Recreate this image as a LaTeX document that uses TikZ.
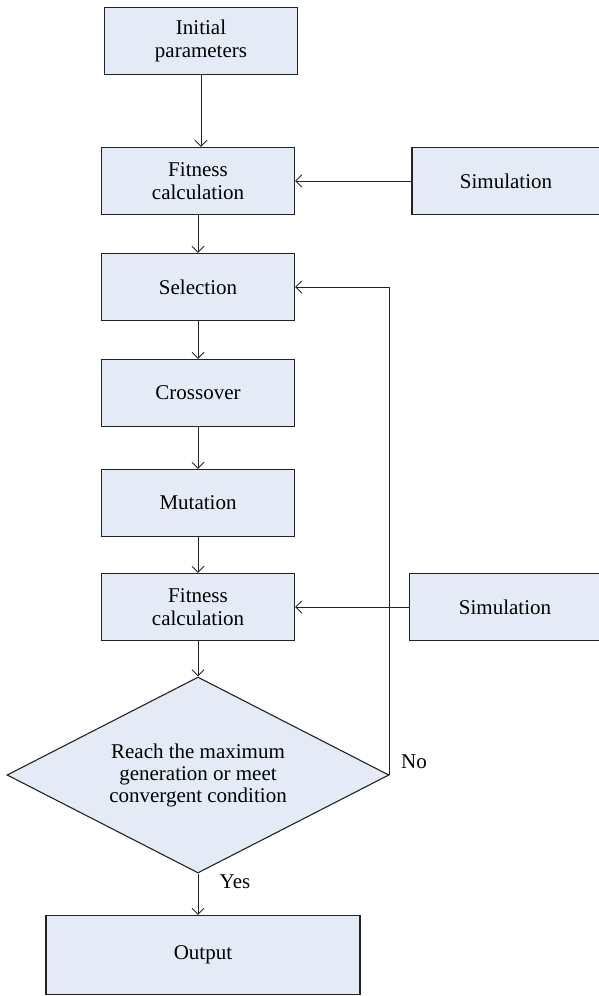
\documentclass[tikz,border=0pt]{standalone}
\usepackage{fontspec}
\setmainfont{Liberation Serif}
\usetikzlibrary{shapes.geometric,arrows.meta}
\definecolor{boxfill}{RGB}{228,235,246}
\definecolor{edge}{RGB}{35,35,35}
\begin{document}
\begin{tikzpicture}
		[x=1pt,y=-1pt,
		box/.style={rectangle,draw=edge,line width=1.1pt,fill=boxfill,minimum width=193pt,minimum height=67pt,align=center,font=\fontsize{21}{22.5}\selectfont},
		decision/.style={diamond,draw=edge,line width=1.1pt,fill=boxfill,aspect=2,inner sep=0pt,minimum width=382pt,minimum height=196pt,align=center,font=\fontsize{21}{22}\selectfont},
		arrow/.style={draw=edge,line width=1pt,-{Straight Barb[length=6pt,width=12pt]}},
		tag/.style={font=\fontsize{21}{23}\selectfont}]
		\useasboundingbox (0,0) rectangle (599,996);
		\node[box,name=init] at (201,41) {Initial\\parameters};
		\node[box,name=fit1] at (198,181) {Fitness\\calculation};
		\node[box,name=sim1,minimum width=188pt] at (506,181) {Simulation};
		\node[box,name=sel] at (198,287) {Selection};
		\node[box,name=cross] at (198,393) {Crossover};
		\node[box,name=mut] at (198,503) {Mutation};
		\node[box,name=fit2] at (198,607) {Fitness\\calculation};
		\node[box,name=sim2,minimum width=191pt] at (505,607) {Simulation};
		\node[decision,name=check] at (198,775) {Reach the maximum\\generation or meet\\convergent condition};
		\node[box,name=out,minimum width=314pt,minimum height=79pt] at (203,955) {Output};
		\node[tag,name=no] at (414,762) {No};
		\node[tag,name=yes] at (235,882) {Yes};
		\draw[arrow] (init.south)--(init.south|-fit1.north);
		\draw[arrow] (sim1)--(fit1);
		\draw[arrow] (fit1)--(sel);
		\draw[arrow] (sel)--(cross);
		\draw[arrow] (cross)--(mut);
		\draw[arrow] (mut)--(fit2);
		\draw[arrow] (sim2)--(fit2);
		\draw[arrow] (fit2)--(check);
		\draw[arrow] (check.east) |- (sel.east);
		\draw[arrow] (check.south)--(check.south|-out.north);
	\end{tikzpicture}
\end{document}
